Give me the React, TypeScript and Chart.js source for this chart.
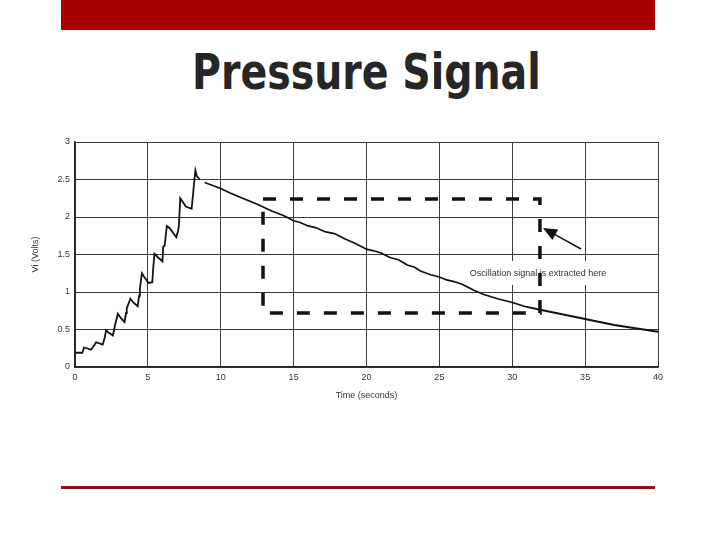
import React, { useEffect, useRef } from "react";
import { Chart, registerables } from "chart.js";

Chart.register(...registerables);

// ---- Data ----
const timeSeconds: number[] = [
  0, 0.5, 0.62, 0.8, 1.1, 1.25, 1.45, 1.9, 2.05, 2.13, 2.3, 2.6, 2.75, 2.94, 3.15, 3.4, 3.5, 3.55, 3.8, 4.0,
  4.3, 4.4, 4.45, 4.59, 4.75, 5.05, 5.3, 5.38, 5.45, 5.7, 6.0, 6.05, 6.15, 6.3, 6.5, 6.95, 7.05, 7.13, 7.22,
  7.4, 7.6, 8.0, 8.1, 8.17, 8.26, 8.35, 8.55, 8.7,
  8.9, 10.0, 10.64, 11.5, 12.5, 13.5, 14.3, 15.0, 15.4, 16.0, 16.5, 17.2, 17.8, 18.5, 19.2, 20.0, 20.5,
  21.0, 21.6, 22.2, 22.8, 23.3, 23.7, 24.4, 25.0, 25.5, 26.0, 26.6, 27.3, 28.0, 29.0, 30.0, 31.0, 32.0,
  33.0, 34.0, 35.0, 36.0, 37.0, 38.0, 39.0, 40.0,
];
const voltage: (number | null)[] = [
  0.19, 0.19, 0.26, 0.25, 0.23, 0.27, 0.33, 0.3, 0.4, 0.49, 0.46, 0.42, 0.56, 0.71, 0.65, 0.6, 0.72, 0.78, 0.91, 0.86,
  0.81, 0.95, 1.04, 1.25, 1.2, 1.12, 1.13, 1.35, 1.51, 1.46, 1.41, 1.6, 1.62, 1.88, 1.85, 1.73, 1.8, 1.88, 2.25,
  2.2, 2.14, 2.11, 2.3, 2.45, 2.62, 2.55, 2.5, null,
  2.46, 2.38, 2.32, 2.25, 2.17, 2.08, 2.02, 1.95, 1.93, 1.88, 1.86, 1.8, 1.78, 1.71, 1.65, 1.57, 1.55,
  1.52, 1.46, 1.43, 1.36, 1.33, 1.28, 1.23, 1.2, 1.16, 1.14, 1.1, 1.03, 0.97, 0.91, 0.86, 0.8, 0.76,
  0.72, 0.68, 0.64, 0.6, 0.56, 0.53, 0.5, 0.47,
];

// Highlight region (time range / volt range) for the dashed box
const boxTimes: number[] = [12.9, 31.9, 31.9, 12.9, 12.9];
const boxVolts: number[] = [2.24, 2.24, 0.72, 0.72, 2.24];

// Arrow (tail -> head) and label, in data units
const arrowTail = { x: 34.72, y: 1.573 };
const arrowHead = { x: 32.11, y: 1.853 };
const annotationText = "Oscillation signal is extracted here";
const annotationPos = { x: 31.77, y: 1.253 };

const xTicks: number[] = [0, 5, 10, 15, 20, 25, 30, 35, 40];
const yTicks: number[] = [0, 0.5, 1, 1.5, 2, 2.5, 3];

const annotationPlugin = {
  id: "annotationPlugin",
  beforeDatasetsDraw(chart: any) {
    const { ctx, scales } = chart;
    const xs = scales.x;
    const ys = scales.y;
    const tx = xs.getPixelForValue(annotationPos.x);
    const ty = ys.getPixelForValue(annotationPos.y);
    ctx.save();
    ctx.font = "9px 'Liberation Sans', Arial, sans-serif";
    const w = ctx.measureText(annotationText).width;
    ctx.fillStyle = "#ffffff";
    ctx.fillRect(tx - w / 2 - 8, ty - 12, w + 16, 24);
    ctx.fillStyle = "#333333";
    ctx.textAlign = "center";
    ctx.textBaseline = "middle";
    ctx.fillText(annotationText, tx, ty);
    ctx.restore();
  },
  afterDatasetsDraw(chart: any) {
    const { ctx, scales } = chart;
    const xs = scales.x;
    const ys = scales.y;
    const x1 = xs.getPixelForValue(arrowTail.x);
    const y1 = ys.getPixelForValue(arrowTail.y);
    const x2 = xs.getPixelForValue(arrowHead.x);
    const y2 = ys.getPixelForValue(arrowHead.y);
    const ang = Math.atan2(y2 - y1, x2 - x1);
    const headLen = 14;
    const headW = 6;
    ctx.save();
    ctx.strokeStyle = "#111";
    ctx.fillStyle = "#111";
    ctx.lineWidth = 1.5;
    ctx.beginPath();
    ctx.moveTo(x1, y1);
    ctx.lineTo(x2 - Math.cos(ang) * headLen * 0.8, y2 - Math.sin(ang) * headLen * 0.8);
    ctx.stroke();
    const bx = x2 - Math.cos(ang) * headLen;
    const by = y2 - Math.sin(ang) * headLen;
    ctx.beginPath();
    ctx.moveTo(x2, y2);
    ctx.lineTo(bx + Math.sin(ang) * headW, by - Math.cos(ang) * headW);
    ctx.lineTo(bx - Math.sin(ang) * headW, by + Math.cos(ang) * headW);
    ctx.closePath();
    ctx.fill();
    ctx.restore();
  },
};

export default function App() {
  const canvasRef = useRef<HTMLCanvasElement | null>(null);

  useEffect(() => {
    if (!canvasRef.current) return;
    const signal = timeSeconds.map((t, i) => ({ x: t, y: voltage[i] }));
    const box = boxTimes.map((t, i) => ({ x: t, y: boxVolts[i] }));
    const tickFont = { family: "'Liberation Sans', Arial, sans-serif", size: 9 };
    const chart = new Chart(canvasRef.current, {
      type: "line",
      data: {
        datasets: [
          {
            data: signal as any,
            borderColor: "#111111",
            borderWidth: 1.8,
            pointRadius: 0,
            tension: 0,
            spanGaps: false,
          },
          {
            data: box as any,
            borderColor: "#111111",
            borderWidth: 3.5,
            borderDash: [13, 14],
            pointRadius: 0,
            tension: 0,
          },
        ],
      },
      options: {
        animation: false,
        responsive: false,
        maintainAspectRatio: false,
        layout: { padding: { left: 20, right: 62, top: 142, bottom: 133 } },
        plugins: { legend: { display: false }, tooltip: { enabled: false }, title: { display: false } },
        scales: {
          x: {
            type: "linear",
            min: 0,
            max: 40,
            afterBuildTicks: (s: any) => {
              s.ticks = xTicks.map((v) => ({ value: v }));
            },
            afterFit: (s: any) => {
              s.height = 40;
            },
            grid: { color: "#3a3a3a", lineWidth: 1, drawTicks: false },
            border: { color: "#222", width: 1.5 },
            ticks: { font: tickFont, color: "#333", padding: 5, maxRotation: 0, callback: (v: any) => String(v) },
            title: {
              display: true,
              text: "Time (seconds)",
              font: tickFont,
              color: "#333",
              padding: { top: 4, bottom: 6 },
            },
          },
          y: {
            type: "linear",
            min: 0,
            max: 3,
            afterBuildTicks: (s: any) => {
              s.ticks = yTicks.map((v) => ({ value: v }));
            },
            afterFit: (s: any) => {
              s.width = 55;
            },
            grid: { color: "#3a3a3a", lineWidth: 1, drawTicks: false },
            border: { color: "#222", width: 1.5 },
            ticks: { font: tickFont, color: "#333", padding: 5, callback: (v: any) => String(v) },
            title: {
              display: true,
              text: "Vi (Volts)",
              font: tickFont,
              color: "#333",
              padding: { top: 10, bottom: 4 },
            },
          },
        },
      },
      plugins: [annotationPlugin],
    });
    return () => chart.destroy();
  }, []);

  return (
    <div style={{ position: "fixed", left: 0, top: 0, width: 720, height: 540, background: "#fff", overflow: "hidden" }}>
      <div style={{ position: "absolute", left: 61, top: 0, width: 594, height: 30, background: "#a80000" }} />
      <div
        style={{
          position: "absolute",
          left: 0,
          top: 40,
          width: 720,
          textAlign: "center",
          fontFamily: "'DejaVu Sans', sans-serif",
          fontWeight: "bold",
          fontSize: 56,
          lineHeight: "64px",
          color: "#262626",
        }}
      >
        <span style={{ display: "inline-block", transform: "translateX(6px) scaleX(0.705) scaleY(0.9)" }}>Pressure Signal</span>
      </div>
      <canvas ref={canvasRef} width={720} height={540} style={{ position: "absolute", left: 0, top: 0 }} />
      <div style={{ position: "absolute", left: 61, top: 486, width: 594, height: 3, background: "#8e1010" }} />
    </div>
  );
}
